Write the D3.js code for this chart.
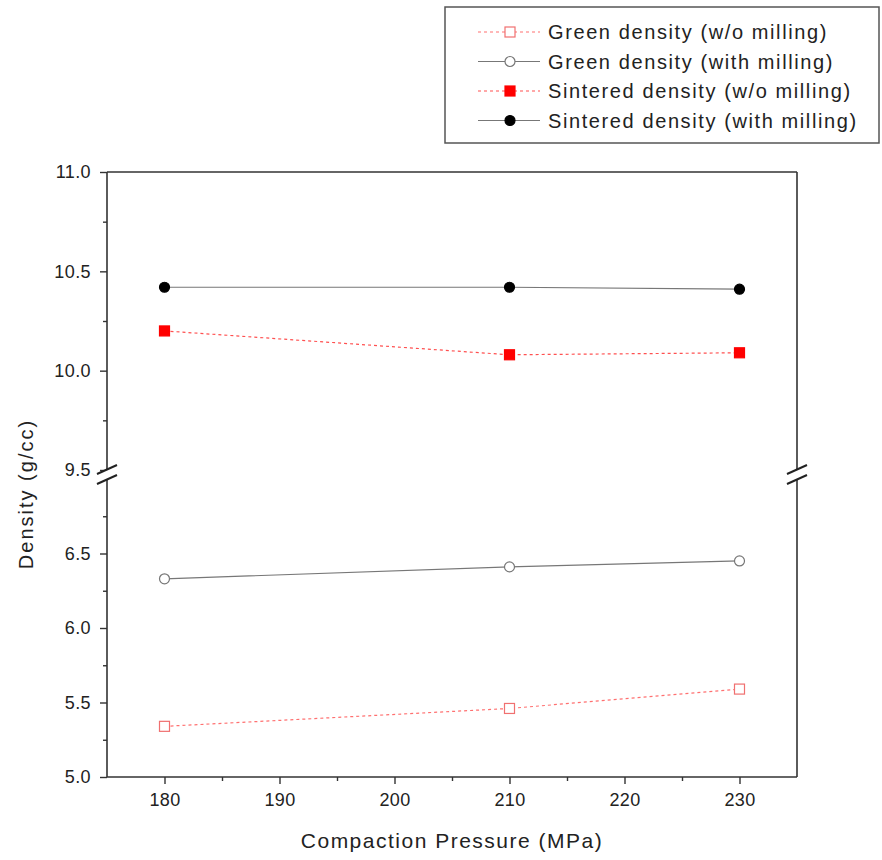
<!DOCTYPE html>
<html>
<head>
<meta charset="utf-8">
<script src="https://cdn.jsdelivr.net/npm/d3@7"></script>
<style>
  body { margin: 0; background: #fff; }
  text { font-family: "Liberation Sans", Arial, sans-serif; fill: #222; }
</style>
</head>
<body>
<div id="chart"></div>
<script>
// data
var pressure = [180, 210, 230];
var greenNoMill = [5.34, 5.46, 5.59];
var greenMill = [6.33, 6.41, 6.45];
var sinterNoMill = [10.20, 10.08, 10.09];
var sinterMill = [10.42, 10.42, 10.41];
var seriesNames = ["Green density (w/o milling)", "Green density (with milling)",
  "Sintered density (w/o milling)", "Sintered density (with milling)"];
var xTicks = [180, 190, 200, 210, 220, 230];
var upperTicks = [9.5, 10.0, 10.5, 11.0];
var lowerTicks = [5.0, 5.5, 6.0, 6.5];

var W = 882, H = 860;
var pLeft = 107, pRight = 797, pTop = 172, pBottom = 777;

var svg = d3.select("#chart").append("svg")
  .attr("width", W).attr("height", H);

//scales: broken y axis, two pieces
var x = d3.scaleLinear().domain([175, 235]).range([pLeft, pRight]);
var yUp = d3.scaleLinear().domain([9.5, 11.0]).range([470, pTop]);
var yLow = d3.scaleLinear().domain([5.0, 7.0]).range([pBottom, 479]);

//series table
var series = [
  {vals: greenNoMill, y: yLow, shape: "square", fill: "#fff", stroke: "#f07070", line: "#ff7070", dash: "3,3"},
  {vals: greenMill, y: yLow, shape: "circle", fill: "#fff", stroke: "#777", line: "#777", dash: null},
  {vals: sinterNoMill, y: yUp, shape: "square", fill: "#ff0000", stroke: "#ff0000", line: "#ff5050", dash: "3,3"},
  {vals: sinterMill, y: yUp, shape: "circle", fill: "#000", stroke: "#000", line: "#777", dash: null}
];

//frame
var frame = svg.append("g").attr("stroke", "#333").attr("stroke-width", 1.6);
frame.append("line").attr("x1", pLeft).attr("x2", pRight).attr("y1", pTop).attr("y2", pTop);
frame.append("line").attr("x1", pLeft).attr("x2", pRight).attr("y1", pBottom).attr("y2", pBottom);
frame.append("line").attr("x1", pLeft).attr("x2", pLeft).attr("y1", pTop).attr("y2", pBottom);
frame.append("line").attr("x1", pRight).attr("x2", pRight).attr("y1", pTop).attr("y2", pBottom);

//x axis
var xAxis = d3.axisBottom(x).tickValues(xTicks).tickSize(7).tickPadding(9);
var gx = svg.append("g").attr("transform", "translate(0," + pBottom + ")").call(xAxis);
gx.select(".domain").remove();
gx.selectAll(".tick line").attr("stroke", "#333").attr("stroke-width", 1.4);
gx.selectAll("text").attr("font-size", 18).attr("letter-spacing", 0.4).attr("fill", "#222");
svg.append("g").attr("transform", "translate(0," + pBottom + ")")
  .call(d3.axisBottom(x).tickValues([185, 195, 205, 215, 225]).tickSize(4).tickFormat(""))
  .call(function(g) { g.select(".domain").remove(); g.selectAll("line").attr("stroke", "#333").attr("stroke-width", 1.4); });

//y axes (upper and lower pieces)
function yAxisPiece(scale, majors, minors) {
  var g = svg.append("g").attr("transform", "translate(" + pLeft + ",0)")
    .call(d3.axisLeft(scale).tickValues(majors).tickSize(7).tickPadding(9).tickFormat(d3.format(".1f")));
  g.select(".domain").remove();
  g.selectAll(".tick line").attr("stroke", "#333").attr("stroke-width", 1.4);
  g.selectAll("text").attr("font-size", 18).attr("letter-spacing", 0.4).attr("fill", "#222");
  svg.append("g").attr("transform", "translate(" + pLeft + ",0)")
    .call(d3.axisLeft(scale).tickValues(minors).tickSize(4).tickFormat(""))
    .call(function(g) { g.select(".domain").remove(); g.selectAll("line").attr("stroke", "#333").attr("stroke-width", 1.4); });
}
yAxisPiece(yUp, upperTicks, [9.75, 10.25, 10.75]);
yAxisPiece(yLow, lowerTicks, [5.25, 5.75, 6.25, 6.75]);

//break marks on both vertical axes
[pLeft, pRight].forEach(function(bx) {
  svg.append("rect").attr("x", bx - 3).attr("y", 470).attr("width", 6).attr("height", 9).attr("fill", "#fff");
  [469, 479].forEach(function(by) {
    svg.append("line").attr("x1", bx - 10).attr("y1", by + 5).attr("x2", bx + 10).attr("y2", by - 4)
      .attr("stroke", "#222").attr("stroke-width", 2);
  });
});

//axis titles
svg.append("text").attr("x", 452).attr("y", 848)
  .attr("text-anchor", "middle").attr("font-size", 21).attr("letter-spacing", 1.5)
  .text("Compaction Pressure (MPa)");
svg.append("text").attr("transform", "translate(33,494) rotate(-90)")
  .attr("text-anchor", "middle").attr("font-size", 20).attr("letter-spacing", 2)
  .text("Density (g/cc)");

//marker helper
function marker(g, s, cx, cy) {
  if (s.shape === "square") {
    g.append("rect").attr("x", cx - 5).attr("y", cy - 5).attr("width", 10).attr("height", 10)
      .attr("fill", s.fill).attr("stroke", s.stroke).attr("stroke-width", 1.2);
  } else {
    g.append("circle").attr("cx", cx).attr("cy", cy).attr("r", 5)
      .attr("fill", s.fill).attr("stroke", s.stroke).attr("stroke-width", 1.2);
  }
}

//lines and markers
series.forEach(function(s) {
  var line = d3.line().x(function(d, i) { return x(pressure[i]); }).y(function(d) { return s.y(d); });
  svg.append("path").datum(s.vals).attr("d", line).attr("fill", "none")
    .attr("stroke", s.line).attr("stroke-width", 1.2).attr("stroke-dasharray", s.dash);
  var g = svg.append("g");
  s.vals.forEach(function(v, i) { marker(g, s, x(pressure[i]), s.y(v)); });
});

//legend
var lg = svg.append("g");
lg.append("rect").attr("x", 445).attr("y", 7).attr("width", 434).attr("height", 136)
  .attr("fill", "#fff").attr("stroke", "#555").attr("stroke-width", 1.5);
series.forEach(function(s, i) {
  var ly = 32 + i * 29.5;
  lg.append("line").attr("x1", 478).attr("x2", 540).attr("y1", ly).attr("y2", ly)
    .attr("stroke", s.line).attr("stroke-width", 1.2).attr("stroke-dasharray", s.dash);
  marker(lg, s, 510, ly);
  lg.append("text").attr("x", 548).attr("y", ly).attr("dy", "0.35em")
    .attr("font-size", 20).attr("letter-spacing", 1.6).text(seriesNames[i]);
});
</script>
</body>
</html>
